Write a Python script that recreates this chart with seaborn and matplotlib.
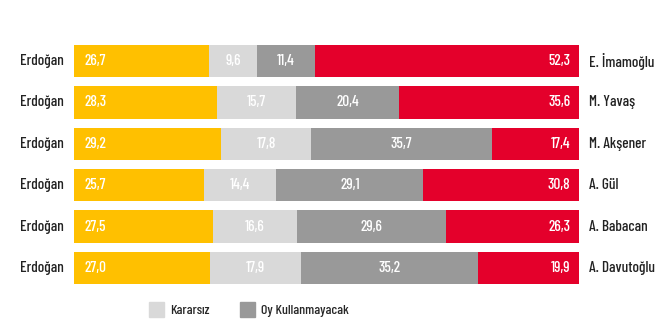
import matplotlib
matplotlib.use("Agg")
import matplotlib.pyplot as plt
import matplotlib.patches as mpatches
import seaborn as sns
import numpy as np
import pandas as pd

sns.set_theme(style="white")
plt.rcParams["font.family"] = ["Barlow Condensed", "DejaVu Sans"]
plt.rcParams["font.weight"] = "medium"

left_labels = ["Erdoğan"] * 6
opponents = ["E. İmamoğlu", "M. Yavaş", "M. Akşener", "A. Gül", "A. Babacan", "A. Davutoğlu"]
erdogan = [26.7, 28.3, 29.2, 25.7, 27.5, 27.0]
kararsiz = [9.6, 15.7, 17.8, 14.4, 16.6, 17.9]
oy_kullanmayacak = [11.4, 20.4, 35.7, 29.1, 29.6, 35.2]
rakip = [52.3, 35.6, 17.4, 30.8, 26.3, 19.9]

c_yellow = "#FFC000"
c_light = "#D9D9D9"
c_dark = "#999999"
c_red = "#E4002B"

df = pd.DataFrame({
    "row": list(range(6)),
    "e": erdogan, "k": kararsiz, "o": oy_kullanmayacak, "r": rakip,
})
df["c1"] = df["e"]
df["c2"] = df["c1"] + df["k"]
df["c3"] = df["c2"] + df["o"]
df["c4"] = df["c3"] + df["r"]

fig = plt.figure(figsize=(6.72, 3.35), dpi=100)
ax = fig.add_axes([0.110, 0.126, 0.7516, 0.766])

for col, color in [("c4", c_red), ("c3", c_dark), ("c2", c_light), ("c1", c_yellow)]:
    sns.barplot(data=df, x=col, y="row", orient="h", color=color, width=0.78,
                saturation=1, ax=ax, linewidth=0, native_scale=True)

ax.set_xlim(0, 100)
ax.set_ylim(5.6, -0.6)
ax.set_xlabel("")
ax.set_ylabel("")
ax.set_xticks([])
ax.set_yticks([])
for s in ax.spines.values():
    s.set_visible(False)

fs = 11
def fmt(v):
    return f"{v:.1f}".replace(".", ",")

for i in range(6):
    e, k, o, r = erdogan[i], kararsiz[i], oy_kullanmayacak[i], rakip[i]
    ax.text(2.0, i, fmt(e), color="white", fontsize=fs, va="center", ha="left")
    ax.text(e + k / 2, i, fmt(k), color="white", fontsize=fs, va="center", ha="center")
    ax.text(e + k + o / 2, i, fmt(o), color="white", fontsize=fs, va="center", ha="center")
    ax.text(98.3, i, fmt(r), color="white", fontsize=fs, va="center", ha="right")
    ax.text(-2.0, i, left_labels[i], color="#222222", fontsize=fs, va="center", ha="right")
    ax.text(102.0, i, opponents[i], color="#222222", fontsize=fs, va="center", ha="left")

handles = [mpatches.Patch(color=c_light, label="Kararsız"),
           mpatches.Patch(color=c_dark, label="Oy Kullanmayacak")]
fig.legend(handles=handles, loc="center", bbox_to_anchor=(0.37, 0.075), ncol=2,
           frameon=False, fontsize=10, handlelength=1.1, handleheight=1.3,
           handletextpad=0.4, columnspacing=2.2)

fig.savefig("out.png", dpi=100, facecolor="white")
